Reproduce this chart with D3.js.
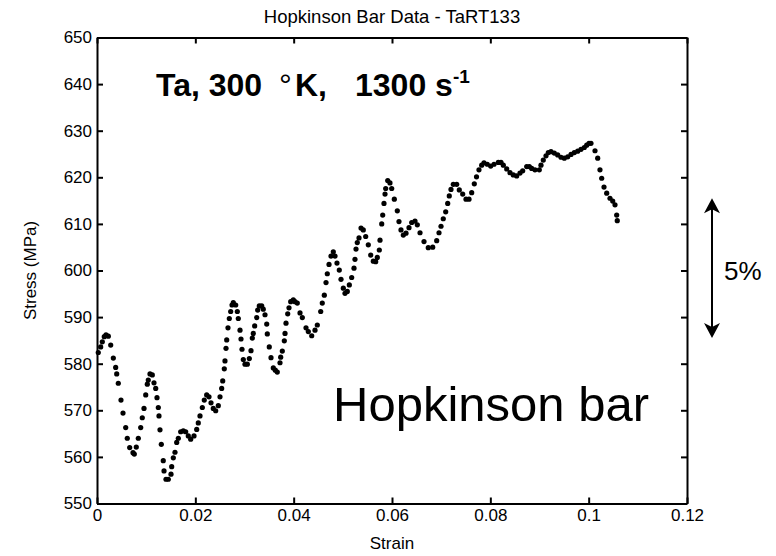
<!DOCTYPE html>
<html>
<head>
<title>hopkinson</title>
<script type="text/javascript" src="https://cdn.jsdelivr.net/npm/d3@7"></script>
<style>
body { margin: 0; background: #fff; }
text { font-family: "Liberation Sans", Arial, sans-serif; }
</style>
</head>
<body>
<svg width="776" height="556"></svg>
<script type="text/javascript">

// values
var strain = [0.00026,0.00075,0.00108,0.00148,0.00183,0.00230,0.00279,0.00332,0.00380,0.00401,
0.00433,0.00488,0.00529,0.00584,0.00616,0.00665,0.00732,0.00759,0.00799,0.00840,
0.00889,0.00921,0.00956,0.00991,0.01023,0.01043,0.01078,0.01125,0.01159,0.01194,
0.01220,0.01247,0.01261,0.01281,0.01308,0.01348,0.01363,0.01403,0.01450,0.01505,
0.01519,0.01552,0.01586,0.01621,0.01654,0.01702,0.01755,0.01804,0.01857,0.01906,
0.01973,0.02028,0.02060,0.02095,0.02142,0.02182,0.02231,0.02278,0.02319,0.02365,
0.02414,0.02467,0.02502,0.02536,0.02557,0.02589,0.02603,0.02624,0.02638,0.02664,
0.02691,0.02719,0.02746,0.02772,0.02821,0.02854,0.02874,0.02909,0.02929,0.02949,
0.02976,0.03010,0.03057,0.03098,0.03132,0.03159,0.03179,0.03207,0.03248,0.03268,
0.03301,0.03350,0.03382,0.03417,0.03452,0.03464,0.03504,0.03539,0.03586,0.03627,
0.03667,0.03722,0.03736,0.03769,0.03810,0.03824,0.03844,0.03879,0.03905,0.03940,
0.03993,0.04027,0.04074,0.04129,0.04176,0.04251,0.04298,0.04367,0.04434,0.04481,
0.04550,0.04582,0.04623,0.04658,0.04684,0.04719,0.04759,0.04806,0.04841,0.04881,
0.04928,0.04963,0.05010,0.05044,0.05091,0.05132,0.05180,0.05227,0.05247,0.05268,
0.05294,0.05329,0.05370,0.05416,0.05465,0.05518,0.05567,0.05620,0.05668,0.05701,
0.05742,0.05756,0.05791,0.05811,0.05837,0.05858,0.05872,0.05913,0.05959,0.05994,
0.06047,0.06108,0.06142,0.06183,0.06230,0.06285,0.06346,0.06401,0.06468,0.06515,
0.06570,0.06651,0.06738,0.06828,0.06909,0.06956,0.06997,0.07043,0.07092,0.07133,
0.07165,0.07200,0.07247,0.07316,0.07369,0.07438,0.07505,0.07566,0.07621,0.07674,
0.07719,0.07769,0.07824,0.07871,0.07938,0.08007,0.08075,0.08162,0.08217,0.08264,
0.08333,0.08400,0.08467,0.08536,0.08603,0.08658,0.08740,0.08793,0.08841,0.08908,
0.08996,0.09030,0.09077,0.09132,0.09179,0.09234,0.09301,0.09370,0.09437,0.09505,
0.09574,0.09641,0.09708,0.09777,0.09844,0.09911,0.09960,0.10007,0.10047,0.10129,
0.10184,0.10230,0.10265,0.10312,0.10367,0.10434,0.10489,0.10536,0.10570,0.10582];

var stress = [582.4,583.6,584.7,585.8,586.2,585.9,584.0,581.2,579.2,577.8,
575.8,572.2,569.4,566.3,564.0,562.0,560.9,560.6,562.1,564.0,
566.3,568.4,570.4,573.3,575.6,576.5,577.8,577.6,575.9,574.7,
572.7,570.6,568.8,565.8,562.7,559.2,557.0,555.2,555.2,556.3,
557.9,559.8,561.0,563.1,564.0,565.4,565.6,565.4,564.5,563.8,
564.5,565.9,567.3,568.8,570.6,572.2,573.3,572.9,571.6,570.4,
569.9,571.0,572.9,574.7,576.3,578.9,580.6,583.3,585.1,587.7,
589.7,591.2,592.6,593.1,592.6,591.2,589.7,587.2,585.3,583.1,
580.9,579.9,579.9,581.1,582.8,585.5,586.5,588.1,589.9,591.5,
592.4,592.4,591.7,590.5,588.5,586.4,583.6,581.3,579.1,578.6,
578.2,580.2,581.4,582.7,584.9,586.5,588.7,590.7,592.0,593.3,
593.7,593.3,593.0,590.9,589.9,587.7,586.9,586.0,587.2,588.3,
591.2,593.0,594.7,597.4,599.3,601.3,603.1,604.0,603.1,601.6,
600.1,598.1,596.2,595.1,595.5,596.9,598.5,600.5,602.4,604.6,
606.0,607.0,609.1,608.7,607.3,605.5,603.3,602.0,601.9,602.8,
604.4,606.5,610.0,611.9,614.4,616.4,617.6,619.3,618.8,617.6,
615.3,612.8,610.5,608.7,607.6,608.0,609.2,610.3,610.6,609.8,
608.1,606.2,604.9,605.0,606.4,608.1,609.5,611.1,612.6,614.4,
616.0,617.4,618.5,618.5,617.3,616.4,615.3,615.3,616.7,618.6,
620.1,621.6,622.6,623.1,622.8,622.4,622.8,623.2,623.2,622.6,
621.8,621.0,620.5,620.3,620.9,621.4,622.3,622.3,621.9,621.6,
621.6,622.6,623.7,624.6,625.3,625.5,625.2,624.8,624.3,624.1,
624.4,624.9,625.3,625.6,626.0,626.4,626.9,627.3,627.3,625.7,
624.1,621.6,619.8,617.9,616.6,615.5,614.9,614.1,611.9,610.7];

var xTicks = [0, 0.02, 0.04, 0.06, 0.08, 0.1, 0.12];
var yTicks = [550, 560, 570, 580, 590, 600, 610, 620, 630, 640, 650];
var arrowRange = [585.5, 615.5];   // the "5%" span in MPa

var svg = d3.select("svg");
var pLeft = 97, pRight = 687, pTop = 37.5, pBottom = 503.5;

var x = d3.scaleLinear().domain([0, 0.12]).range([pLeft, pRight]);
var y = d3.scaleLinear().domain([550, 650]).range([pBottom, pTop]);

var fmt = d3.format("~g");

// axes, ticks pointing inward
var axes = [
  [d3.axisBottom(x).tickValues(xTicks).tickFormat(fmt), 0, pBottom],
  [d3.axisTop(x).tickValues(xTicks).tickFormat(""), 0, pTop],
  [d3.axisLeft(y).tickValues(yTicks).tickFormat(fmt), pLeft, 0],
  [d3.axisRight(y).tickValues(yTicks).tickFormat(""), pRight, 0]
];
axes.forEach(function(a) {
  var g = svg.append("g")
    .attr("transform", "translate(" + a[1] + "," + a[2] + ")")
    .call(a[0].tickSizeInner(-6).tickSizeOuter(0).tickPadding(5));
  g.select(".domain").attr("stroke", "#000").attr("stroke-width", 2);
  g.selectAll(".tick line").attr("stroke", "#000").attr("stroke-width", 2);
  g.selectAll(".tick text").attr("fill", "#000")
    .style("font-family", "Liberation Sans, Arial, sans-serif").style("font-size", "17px");
});

// points
var pts = strain.map(function(s, i) { return [s, stress[i]]; });
svg.append("g").selectAll("circle")
  .data(pts)
  .enter()
  .append("circle")
  .attr("cx", function(d) { return x(d[0]); })
  .attr("cy", function(d) { return y(d[1]); })
  .attr("r", 2.6)
  .attr("fill", "#000");

// title and labels
svg.append("text").attr("x", (pLeft + pRight) / 2).attr("y", 23)
  .attr("text-anchor", "middle").style("font-size", "18.5px")
  .text("Hopkinson Bar Data - TaRT133");
svg.append("text").attr("x", (pLeft + pRight) / 2).attr("y", 549)
  .attr("text-anchor", "middle").style("font-size", "17px")
  .text("Strain");
svg.append("text").attr("transform", "translate(36," + ((pTop + pBottom) / 2) + ") rotate(-90)")
  .attr("text-anchor", "middle").style("font-size", "17px")
  .text("Stress (MPa)");

// annotation
var t = svg.append("text").attr("y", 96).style("font-size", "32px").style("font-weight", "bold");
t.append("tspan").attr("x", 156).text("Ta, 300");
t.append("tspan").attr("x", 279).style("font-weight", "normal").text("°");
t.append("tspan").attr("x", 295).text("K,");
t.append("tspan").attr("x", 355).text("1300 s");
t.append("tspan").attr("dy", -13).style("font-size", "19px").text("-1");

svg.append("text").attr("x", 333).attr("y", 421).style("font-size", "49px")
  .text("Hopkinson bar");

// 5% arrow
var ax5 = 712;
var y0 = y(arrowRange[1]), y1 = y(arrowRange[0]);
svg.append("line").attr("x1", ax5).attr("x2", ax5).attr("y1", y0 + 8).attr("y2", y1 - 8)
  .attr("stroke", "#000").attr("stroke-width", 2);
function head(tipY, dir) {
  return "M" + ax5 + "," + tipY +
    " L" + (ax5 + 8) + "," + (tipY + dir * 15) +
    " L" + ax5 + "," + (tipY + dir * 11) +
    " L" + (ax5 - 8) + "," + (tipY + dir * 15) + " Z";
}
svg.append("path").attr("d", head(y0, 1)).attr("fill", "#000");
svg.append("path").attr("d", head(y1, -1)).attr("fill", "#000");
svg.append("text").attr("x", 724).attr("y", 280).style("font-size", "26px").text("5%");

</script>
</body>
</html>
